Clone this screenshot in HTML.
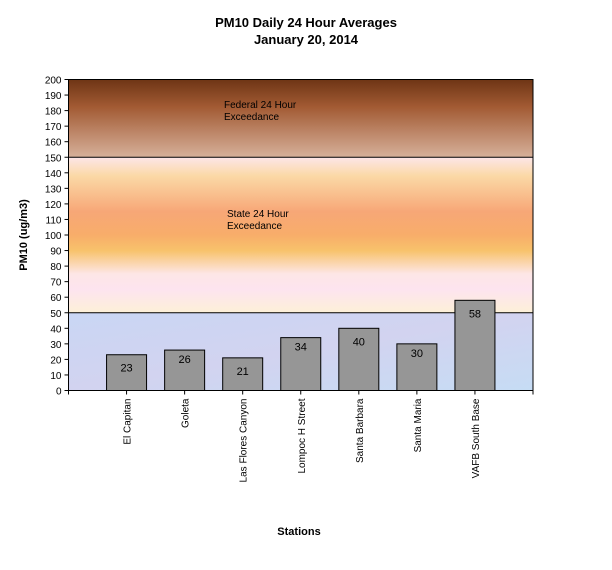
<!DOCTYPE html>
<html><head><meta charset="utf-8"><style>
body{margin:0;background:#fff}
svg text{font-family:"Liberation Sans",Arial,sans-serif}
</style></head><body>
<svg width="612" height="565" viewBox="0 0 612 565">
<defs>
<linearGradient id="fed" x1="0" y1="0" x2="0" y2="1">
<stop offset="0" stop-color="#6e3515"/><stop offset="0.35" stop-color="#a25a33"/><stop offset="1" stop-color="#d6b09a"/></linearGradient>
<linearGradient id="state" x1="0" y1="0" x2="0" y2="1">
<stop offset="0" stop-color="#fde6e8"/><stop offset="0.12" stop-color="#fbd9a6"/><stop offset="0.35" stop-color="#f7a777"/><stop offset="0.5" stop-color="#f8ad6a"/><stop offset="0.6" stop-color="#f8c26b"/><stop offset="0.75" stop-color="#fde6e6"/><stop offset="0.85" stop-color="#fde4ef"/><stop offset="1" stop-color="#fdf0d8"/></linearGradient>
<linearGradient id="ok" x1="0" y1="0" x2="1" y2="1">
<stop offset="0" stop-color="#c9d6f4"/><stop offset="0.5" stop-color="#d2d3f0"/><stop offset="1" stop-color="#c6dcf4"/></linearGradient>
</defs>
<text x="306" y="27" text-anchor="middle" font-size="13" font-weight="bold">PM10 Daily 24 Hour Averages</text>
<text x="306" y="44" text-anchor="middle" font-size="13" font-weight="bold">January 20, 2014</text>
<g id="bands"></g>
<g id="yaxis"></g>
<g id="bars"></g>
<g id="xaxis"></g>
<text x="299" y="535" text-anchor="middle" font-size="11" font-weight="bold">Stations</text>
<text transform="translate(27,235) rotate(-90)" text-anchor="middle" font-size="11" font-weight="bold">PM10 (ug/m3)</text>
<text x="224" y="108" font-size="10">Federal 24 Hour</text>
<text x="224" y="120" font-size="10">Exceedance</text>
<text x="227" y="217" font-size="10">State 24 Hour</text>
<text x="227" y="229" font-size="10">Exceedance</text>
</svg>
<script>
const categories=["El Capitan","Goleta","Las Flores Canyon","Lompoc H Street","Santa Barbara","Santa Maria","VAFB South Base"];
const values=[23,26,21,34,40,30,58];
const yTicks=[0,10,20,30,40,50,60,70,80,90,100,110,120,130,140,150,160,170,180,190,200];
const bandLimits=[0,50,150,200];
const NS="http://www.w3.org/2000/svg";
const L=68.5,R=533,T=79.5,B=390.5,yMax=200;
const y=v=>B-(v/yMax)*(B-T);
const step=(R-L)/(categories.length+1);
const x=i=>L+step*(i+1);
function mk(t,a,p){const e=document.createElementNS(NS,t);for(const k in a)e.setAttribute(k,a[k]);p.appendChild(e);return e;}
const bands=document.getElementById('bands');
const fills=["url(#ok)","url(#state)","url(#fed)"];
const bnames=["normal-band","state-exceedance-band","federal-exceedance-band"];
for(let i=0;i<3;i++){
 const r=mk('rect',{x:L,y:y(bandLimits[i+1]),width:R-L,height:y(bandLimits[i])-y(bandLimits[i+1]),fill:fills[i]},bands);
 
 
}
for(const v of [50,150]){const l=mk('line',{x1:L,x2:R,y1:y(v),y2:y(v),stroke:'#000','stroke-width':1},bands);
 
 }
const fr=mk('rect',{x:L,y:T,width:R-L,height:B-T,fill:'none',stroke:'#000'},bands);


const ya=document.getElementById('yaxis');
for(const t of yTicks){
 mk('line',{x1:L-4,x2:L,y1:y(t),y2:y(t),stroke:'#000'},ya);
 const tx=mk('text',{x:L-7,y:y(t)+4,'text-anchor':'end','font-size':10},ya);tx.textContent=t;
 
 
}
const bars=document.getElementById('bars');
const xa=document.getElementById('xaxis');
categories.forEach((c,i)=>{
 const cx=x(i);
 const b=mk('rect',{x:cx-20,y:y(values[i]),width:40,height:B-y(values[i]),fill:'#969696',stroke:'#000'},bars);
 
 
 const vl=mk('text',{x:cx,y:y(values[i])+(i%2?13:17),'text-anchor':'middle','font-size':11},bars);vl.textContent=values[i];
 
 
 mk('line',{x1:cx,x2:cx,y1:B,y2:B+4,stroke:'#000'},xa);
 const cl=mk('text',{transform:`translate(${cx+4},${B+8}) rotate(-90)`,'text-anchor':'end','font-size':10},xa);cl.textContent=c;
 
 
});
mk('line',{x1:L,x2:L,y1:B,y2:B+4,stroke:'#000'},xa);
mk('line',{x1:R,x2:R,y1:B,y2:B+4,stroke:'#000'},xa);
</script>
</body></html>
